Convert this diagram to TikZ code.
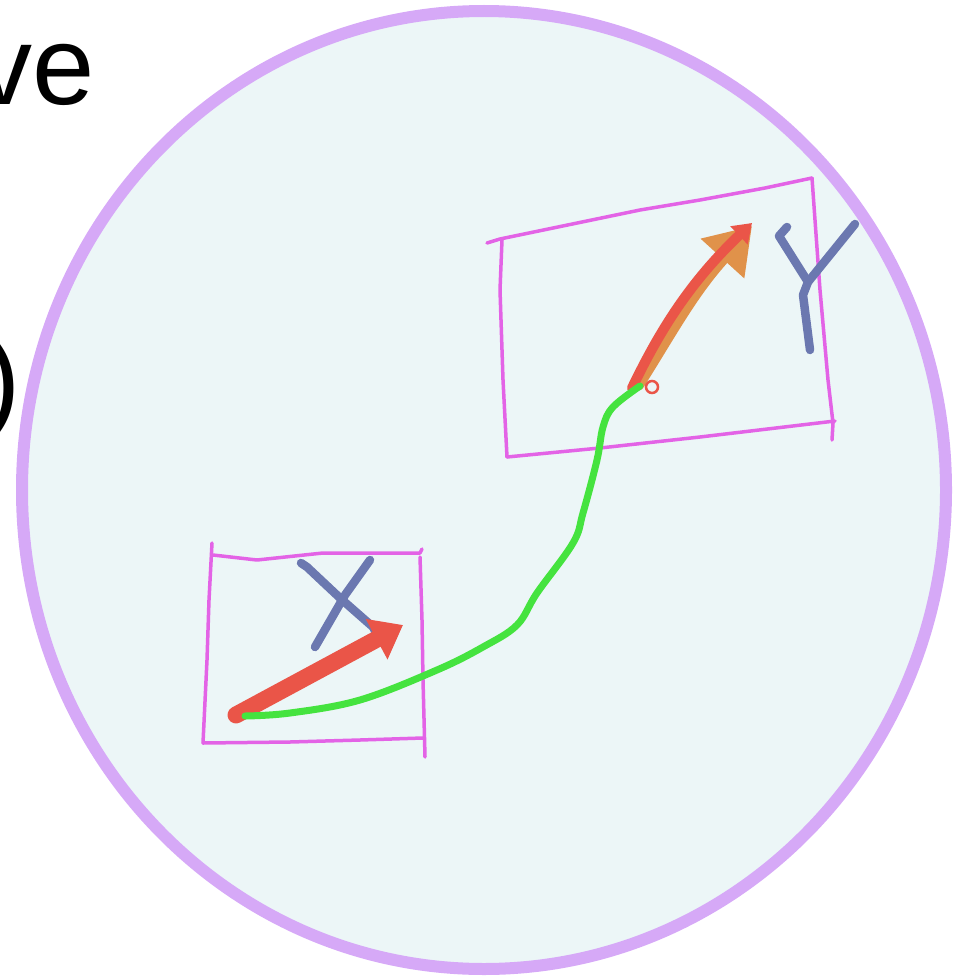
\documentclass[tikz,border=0pt]{standalone}
\usepackage{fontspec}
\setmainfont{Liberation Sans}
\usetikzlibrary{arrows.meta}
\definecolor{ringline}{HTML}{D6A9F7}
\definecolor{ringfill}{HTML}{ECF6F7}
\definecolor{boxline}{HTML}{E363E6}
\definecolor{inkred}{HTML}{EA5548}
\definecolor{inkorange}{HTML}{E0924A}
\definecolor{inkgreen}{HTML}{45E33F}
\definecolor{inkblue}{HTML}{6B78B0}

\begin{document}
\begin{tikzpicture}[x=1pt,y=-1pt,
  big/.style={font=\fontsize{112}{130}\selectfont, inner sep=0pt},
  ring/.style={draw=ringline, fill=ringfill, line width=12pt},
  sketchbox/.style={draw=boxline, line width=3.5pt, line join=round, line cap=round},
  penletter/.style={draw=inkblue, line width=8.5pt, line cap=round, line join=round},
  track/.style={draw=inkgreen, line width=7pt, line cap=round},
  fatarrow/.style={draw=inkred, line width=17pt, line cap=round, -{Triangle[length=30pt,width=44pt]}}
]
\useasboundingbox (0,0) rectangle (958,979);

% left margin text
\node[big, anchor=base west] (head) at (-24,105) {ve};
\node[big, anchor=base east] (paren) at (21,417) {)};

% the space
\draw[ring] (484,490) ellipse [x radius=462, y radius=479];

% box X
\draw[sketchbox] (212,543) -- (209,600) -- (207,660) -- (203,743);
\draw[sketchbox] (213,555) -- (257,560) -- (323,553) -- (420,553) -- (422,549);
\draw[sketchbox] (420,557) -- (422,620) -- (423,680) -- (425,757);
\draw[sketchbox] (203,743) -- (290,742) -- (360,740) -- (423,738);

% box Y
\draw[sketchbox] (487,243) -- (500,239) -- (640,210) -- (700,200) -- (765,188) -- (812,178);
\draw[sketchbox] (502,240) -- (500,290) -- (503,380) -- (507,457);
\draw[sketchbox] (812,178) -- (820,290) -- (828,380) -- (833,423) -- (832,440);
\draw[sketchbox] (507,457) -- (600,448) -- (700,437) -- (835,421);

% letter X
\draw[penletter] (301,563) -- (307,567) -- (340,598) -- (373,627) -- (376,633);
\draw[penletter] (370,560) -- (345,595) -- (315,647);

% letter Y
\draw[penletter] (787,227) -- (779,236) -- (808,282);
\draw[penletter] (855,224) -- (808,282) -- (803,295) -- (810,350);

% arrow in box X
\coordinate (xtail) at (236,715);
\coordinate (xtip) at (403,625);
\draw[fatarrow] (xtail) -- (xtip);

% arrow in box Y
\coordinate (ybase) at (632,388);
\coordinate (ytip) at (752,223);
\draw[inkorange, line width=13pt, line cap=round, -{Triangle[length=44pt,width=56pt]}]
  (638,384) .. controls (672,330) and (692,292) .. (752,226);
\draw[inkred, line width=10pt, line cap=round, -{Triangle[length=18pt,width=24pt]}]
  (ybase) .. controls (660,330) and (690,282) .. (ytip);
\draw[inkred, line width=2.5pt] (652,387) circle (6);

% path from X to Y
\draw[track] plot[smooth, tension=0.6] coordinates {(245,716) (290,713) (360,700) (437,670)
  (483,647) (517,625) (537,593) (573,543) (583,513) (597,460) (603,427) (613,407) (640,386)};
\end{tikzpicture}
\end{document}
